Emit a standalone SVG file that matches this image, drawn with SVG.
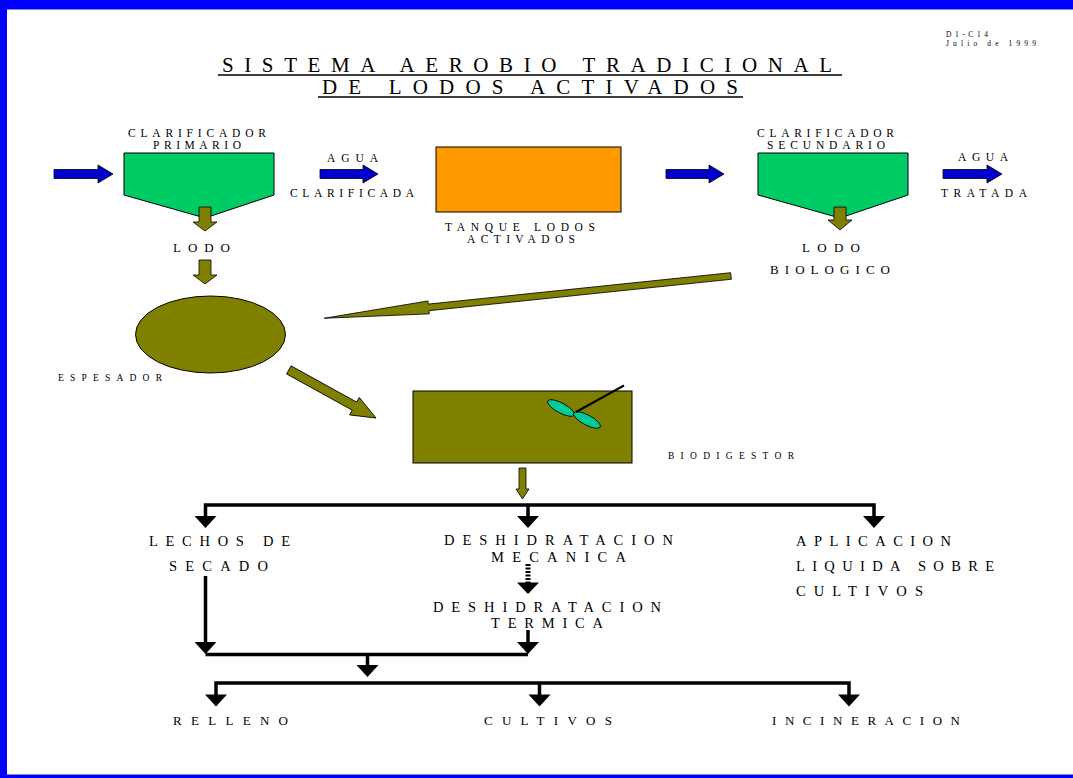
<svg xmlns="http://www.w3.org/2000/svg" width="1073" height="778" viewBox="0 0 1073 778">
<defs>
<style>
text{font-family:"Liberation Serif","Times New Roman",serif;fill:#000;}
.t{font-size:21px;}
.l{font-size:11.5px;}
.m{font-size:13px;}
.b{font-size:14.5px;}
.s{font-size:9.5px;}
.d{font-size:7.5px;}
.blue{fill:#0000CC;stroke:#000;stroke-width:0.8;}
.olive{fill:#808000;stroke:#000;stroke-width:0.8;}
.ln{stroke:#000;stroke-width:3.5;fill:none;}
.hd{fill:#000;}
</style>
</defs>
<rect x="0" y="0" width="1073" height="778" fill="#fff"/>
<g id="frame" fill="#0000FF">
<rect x="0" y="0" width="1073" height="9.5"/>
<rect x="0" y="0" width="7" height="778"/>
<rect x="0" y="774.5" width="1073" height="3.5"/>
</g>
<g id="header">
<text class="d" x="946" y="37" textLength="42" lengthAdjust="spacing">D1-C14</text>
<text class="d" x="946" y="46" textLength="90" lengthAdjust="spacing">Julio de 1999</text>
<text class="t" x="222" y="72" textLength="610" lengthAdjust="spacing">SISTEMA AEROBIO TRADICIONAL</text>
<line x1="218" y1="75" x2="842" y2="75" stroke="#000" stroke-width="1.3"/>
<text class="t" x="322" y="94" textLength="416" lengthAdjust="spacing">DE LODOS ACTIVADOS</text>
<line x1="318" y1="97" x2="743" y2="97" stroke="#000" stroke-width="1.3"/>
</g>
<g id="clarificador-primario">
<polygon points="124,153 274,153 274,195 205,218 124,195" fill="#00CC66" stroke="#000" stroke-width="1"/>
<text class="l" x="128" y="137" textLength="138" lengthAdjust="spacing">CLARIFICADOR</text>
<text class="l" x="153" y="149" textLength="88" lengthAdjust="spacing">PRIMARIO</text>
</g>
<g id="tanque-lodos-activados">
<rect x="436" y="147" width="185" height="65" fill="#FF9900" stroke="#000" stroke-width="1"/>
<text class="l" x="445" y="231" textLength="150" lengthAdjust="spacing">TANQUE LODOS</text>
<text class="l" x="467" y="243" textLength="108" lengthAdjust="spacing">ACTIVADOS</text>
</g>
<g id="clarificador-secundario">
<polygon points="758,153 908,153 908,195 840,218 758,195" fill="#00CC66" stroke="#000" stroke-width="1"/>
<text class="l" x="757" y="137" textLength="137" lengthAdjust="spacing">CLARIFICADOR</text>
<text class="l" x="767" y="149" textLength="118" lengthAdjust="spacing">SECUNDARIO</text>
</g>
<g id="espesador">
<ellipse cx="210.5" cy="334.5" rx="75" ry="38.5" fill="#808000" stroke="#000" stroke-width="1"/>
<text class="s" x="58" y="381" textLength="104" lengthAdjust="spacing">ESPESADOR</text>
</g>
<g id="biodigestor">
<rect x="413" y="391" width="219" height="72" fill="#808000" stroke="#000" stroke-width="1"/>
<ellipse cx="561" cy="408" rx="15" ry="5" transform="rotate(28 561 408)" fill="#00CC99" stroke="#000" stroke-width="0.8"/>
<ellipse cx="587" cy="420" rx="15" ry="5" transform="rotate(28 587 420)" fill="#00CC99" stroke="#000" stroke-width="0.8"/>
<line x1="576" y1="412" x2="624" y2="385.5" stroke="#000" stroke-width="2"/>
<text class="s" x="668" y="459" textLength="126" lengthAdjust="spacing">BIODIGESTOR</text>
</g>
<g id="labels">
<text class="l" x="327" y="162" textLength="51" lengthAdjust="spacing">AGUA</text>
<text class="l" x="290" y="197" textLength="124" lengthAdjust="spacing">CLARIFICADA</text>
<text class="m" x="173" y="252" textLength="57" lengthAdjust="spacing">LODO</text>
<text class="l" x="958" y="161" textLength="50" lengthAdjust="spacing">AGUA</text>
<text class="l" x="941" y="197" textLength="86" lengthAdjust="spacing">TRATADA</text>
<text class="m" x="802" y="252" textLength="58" lengthAdjust="spacing">LODO</text>
<text class="m" x="770" y="274" textLength="120" lengthAdjust="spacing">BIOLOGICO</text>
</g>
<g id="lechos-de-secado">
<text class="b" x="149" y="546" textLength="141" lengthAdjust="spacing">LECHOS DE</text>
<text class="b" x="169" y="571" textLength="99" lengthAdjust="spacing">SECADO</text>
</g>
<g id="deshidratacion-mecanica">
<text class="b" x="444" y="545" textLength="229" lengthAdjust="spacing">DESHIDRATACION</text>
<text class="b" x="491" y="562" textLength="135" lengthAdjust="spacing">MECANICA</text>
</g>
<g id="deshidratacion-termica">
<text class="b" x="433" y="612" textLength="228" lengthAdjust="spacing">DESHIDRATACION</text>
<text class="b" x="491" y="628" textLength="112" lengthAdjust="spacing">TERMICA</text>
</g>
<g id="aplicacion-liquida">
<text class="b" x="796" y="546" textLength="155" lengthAdjust="spacing">APLICACION</text>
<text class="b" x="796" y="571" textLength="198" lengthAdjust="spacing">LIQUIDA SOBRE</text>
<text class="b" x="796" y="596" textLength="127" lengthAdjust="spacing">CULTIVOS</text>
</g>
<g id="relleno"><text class="m" x="173" y="725" textLength="115" lengthAdjust="spacing">RELLENO</text></g>
<g id="cultivos"><text class="m" x="484" y="725" textLength="128" lengthAdjust="spacing">CULTIVOS</text></g>
<g id="incineracion"><text class="m" x="772" y="725" textLength="188" lengthAdjust="spacing">INCINERACION</text></g>
<g id="connectors">
<polygon class="blue" points="54,169.5 98,169.5 98,165 113,174 98,183 98,178.5 54,178.5"/>
<polygon class="blue" points="320,169.5 363,169.5 363,165 378,174 363,183 363,178.5 320,178.5"/>
<polygon class="blue" points="666,169.5 709,169.5 709,165 724,174 709,183 709,178.5 666,178.5"/>
<polygon class="blue" points="943,169.5 987,169.5 987,165 1002,174 987,183 987,178.5 943,178.5"/>
<polygon class="olive" points="199,207 211,207 211,222 217,222 205,231 193,222 199,222"/>
<polygon class="olive" points="199,260 211,260 211,275 217,275 205,284 193,275 199,275"/>
<polygon class="olive" points="834,207 846,207 846,220 852,220 840,230 828,220 834,220"/>
<polygon class="olive" points="519,468 526,468 526,489 529,489 522.5,499 516,489 519,489"/>
<polygon class="olive" transform="translate(731,276) rotate(174.07)" points="0,-3.3 304,-3.3 304,-6.5 409,0 304,6.5 304,3.3 0,3.3"/>
<polygon class="olive" transform="translate(288.8,369.9) rotate(28.9)" points="0,-4.6 75,-4.6 75,-10 99.6,0 75,10 75,4.6 0,4.6"/>
<polyline class="ln" points="205.5,517 205.5,505 874,505 874,517"/>
<line class="ln" x1="528" y1="505" x2="528" y2="517"/>
<polygon class="hd" points="194.5,516 216.5,516 205.5,528"/>
<polygon class="hd" points="517,516 539,516 528,528"/>
<polygon class="hd" points="863,516 885,516 874,528"/>
<line x1="528" y1="564" x2="528" y2="583" stroke="#000" stroke-width="5" stroke-dasharray="2,1.5"/>
<polygon class="hd" points="517,582.5 539,582.5 528,594"/>
<line class="ln" x1="205.5" y1="576" x2="205.5" y2="643"/>
<line class="ln" x1="528" y1="630" x2="528" y2="643"/>
<polygon class="hd" points="194.5,642 216.5,642 205.5,654"/>
<polygon class="hd" points="517,642 539,642 528,654"/>
<line class="ln" x1="205.5" y1="654.5" x2="528" y2="654.5"/>
<line class="ln" x1="367.5" y1="654.5" x2="367.5" y2="666"/>
<polygon class="hd" points="356.5,665 378.5,665 367.5,677"/>
<polyline class="ln" points="216,695 216,683 849,683 849,695"/>
<line class="ln" x1="539.5" y1="683" x2="539.5" y2="695"/>
<polygon class="hd" points="205,694.5 227,694.5 216,706.5"/>
<polygon class="hd" points="528.5,694.5 550.5,694.5 539.5,706.5"/>
<polygon class="hd" points="838,694.5 860,694.5 849,706.5"/>
</g>
</svg>
